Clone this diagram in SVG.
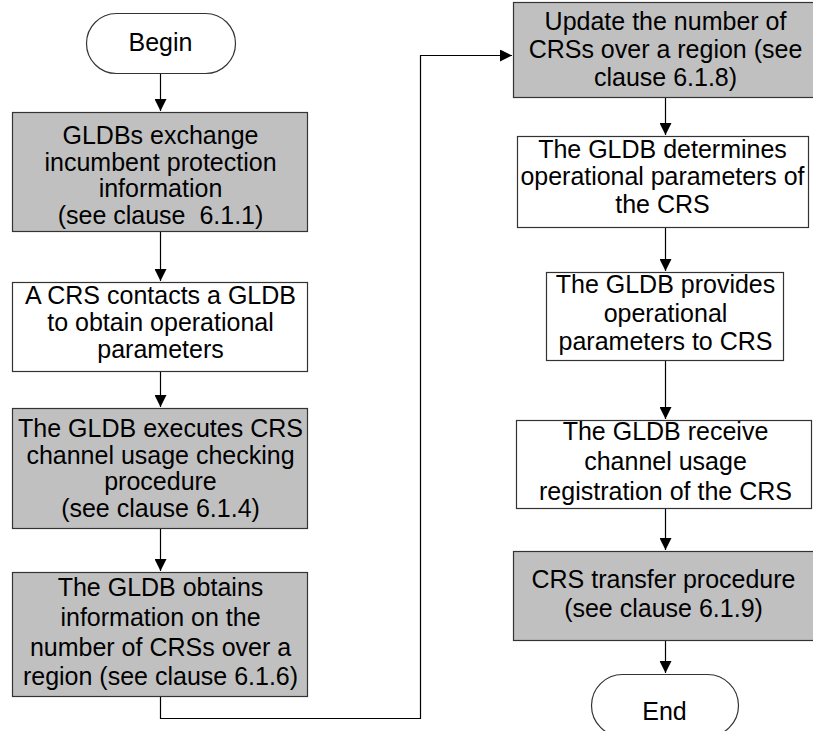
<svg xmlns="http://www.w3.org/2000/svg" width="813" height="731" viewBox="0 0 813 731">
<style>
.box{stroke:#333;stroke-width:1.2}
.g{fill:#c0c0c0}
.w{fill:#fff}
.t{font-family:"Liberation Sans",Arial,sans-serif;font-size:25px;fill:#000;text-anchor:middle}
.c{fill:none;stroke:#000;stroke-width:1.2}
</style>
<defs>
<marker id="ah" markerUnits="userSpaceOnUse" markerWidth="12" markerHeight="12" refX="12" refY="6" orient="auto">
<path d="M0,0 L12,6 L0,12 Z" fill="#000"/>
</marker>
</defs>
<rect width="813" height="731" fill="#fff"/>
<g id="connectors">
<path class="c" d="M160.5,73 V111" marker-end="url(#ah)"/>
<path class="c" d="M160.5,232 V281" marker-end="url(#ah)"/>
<path class="c" d="M160.5,371 V407" marker-end="url(#ah)"/>
<path class="c" d="M160.5,528 V571" marker-end="url(#ah)"/>
<path class="c" d="M160.5,696 V718.5 H420.5 V55.5 H512" marker-end="url(#ah)"/>
<path class="c" d="M665.5,97 V135" marker-end="url(#ah)"/>
<path class="c" d="M665.5,227 V271" marker-end="url(#ah)"/>
<path class="c" d="M665.5,360 V419" marker-end="url(#ah)"/>
<path class="c" d="M665.5,508 V550" marker-end="url(#ah)"/>
<path class="c" d="M665.5,640 V673" marker-end="url(#ah)"/>
</g>
<g id="begin">
<rect class="box w" x="86.5" y="13.5" width="149" height="60" rx="30" ry="30"/>
<text class="t" x="160.5" y="51">Begin</text>
</g>
<g id="n1">
<rect class="box g" x="12.5" y="112.5" width="295" height="119"/>
<text class="t" x="160.5" y="144">GLDBs exchange</text>
<text class="t" x="160.5" y="170.5">incumbent protection</text>
<text class="t" x="160.5" y="197">information</text>
<text class="t" x="160.5" y="223.5">(see clause&#160; 6.1.1)</text>
</g>
<g id="n2">
<rect class="box w" x="12.5" y="282.5" width="295" height="89"/>
<text class="t" x="160.5" y="304">A CRS contacts a GLDB</text>
<text class="t" x="160.5" y="331">to obtain operational</text>
<text class="t" x="160.5" y="357.5">parameters</text>
</g>
<g id="n3">
<rect class="box g" x="12.5" y="408.5" width="295" height="120"/>
<text class="t" x="160.5" y="437">The GLDB executes CRS</text>
<text class="t" x="160.5" y="463.5">channel usage checking</text>
<text class="t" x="160.5" y="490">procedure</text>
<text class="t" x="160.5" y="517">(see clause 6.1.4)</text>
</g>
<g id="n4">
<rect class="box g" x="12.5" y="572.5" width="295" height="124"/>
<text class="t" x="160.5" y="596">The GLDB obtains</text>
<text class="t" x="160.5" y="626">information on the</text>
<text class="t" x="160.5" y="656">number of CRSs over a</text>
<text class="t" x="160.5" y="685">region (see clause 6.1.6)</text>
</g>
<g id="n5">
<rect class="box g" x="513.5" y="2.5" width="305" height="95"/>
<text class="t" x="665.5" y="30">Update the number of</text>
<text class="t" x="665.5" y="58">CRSs over a region (see</text>
<text class="t" x="665.5" y="86">clause 6.1.8)</text>
</g>
<g id="n6">
<rect class="box w" x="517.5" y="136.5" width="291" height="91"/>
<text class="t" x="662.5" y="158">The GLDB determines</text>
<text class="t" x="662.5" y="185" textLength="284" lengthAdjust="spacingAndGlyphs">operational parameters of</text>
<text class="t" x="662.5" y="213">the CRS</text>
</g>
<g id="n7">
<rect class="box w" x="546.5" y="272.5" width="237" height="88"/>
<text class="t" x="665.5" y="293">The GLDB provides</text>
<text class="t" x="665.5" y="322">operational</text>
<text class="t" x="665.5" y="350">parameters to CRS</text>
</g>
<g id="n8">
<rect class="box w" x="516.5" y="420.5" width="295" height="88"/>
<text class="t" x="665.5" y="440">The GLDB receive</text>
<text class="t" x="665.5" y="470">channel usage</text>
<text class="t" x="665.5" y="500">registration of the CRS</text>
</g>
<g id="n9">
<rect class="box g" x="513.5" y="551.5" width="305" height="89"/>
<text class="t" x="663.5" y="588">CRS transfer procedure</text>
<text class="t" x="663.5" y="617">(see clause 6.1.9)</text>
</g>
<g id="end">
<rect class="box w" x="591.5" y="674.5" width="147" height="62" rx="31" ry="31"/>
<text class="t" x="664.5" y="720">End</text>
</g>
</svg>
